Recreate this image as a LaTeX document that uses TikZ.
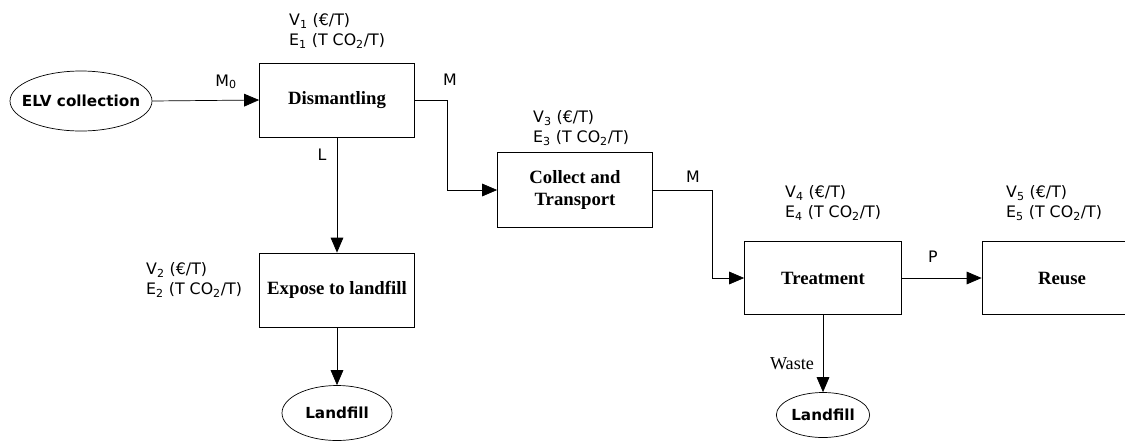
\documentclass[tikz,border=0pt]{standalone}
\usepackage{fontspec}
\setmainfont{Liberation Serif}
\setsansfont{DejaVu Sans}
\usetikzlibrary{arrows.meta,shapes.geometric,positioning}

\begin{document}
\begin{tikzpicture}[x=0.03cm,y=-0.03cm]
\tikzset{
  stagebox/.style={rectangle,draw,line width=0.6pt,minimum width=4.65cm,minimum height=2.22cm,
    align=center,font=\bfseries\fontsize{16}{18}\selectfont},
  endpoint/.style={ellipse,draw,line width=0.6pt,inner sep=0pt,font=\sffamily\bfseries\fontsize{13}{15}\selectfont},
  costlabel/.style={anchor=west,align=left,inner sep=0pt,font=\sffamily\fontsize{13.5}{17}\selectfont},
  flowlabel/.style={inner sep=0pt,font=\sffamily\fontsize{13.5}{15}\selectfont},
  flow/.style={-{Triangle[length=4.5mm,width=3.8mm]},line width=0.6pt},
  plain/.style={line width=0.6pt}
}
\clip (0,0) rectangle (1125,443);
% nodes
\node[endpoint,inner xsep=-0.27cm,minimum width=4.26cm,minimum height=1.8cm] (n_elv) at (81,101) {ELV collection};
\node[stagebox] (n_dism) at (337,100) {Dismantling};
\node[stagebox] (n_expose) at (337,290) {Expose to landfill};
\node[stagebox,minimum height=2.25cm] (n_coll) at (575,190) {Collect and\\Transport};
\node[stagebox,minimum width=4.71cm,minimum height=2.19cm] (n_treat) at (823,278) {Treatment};
\node[stagebox,minimum width=4.8cm,minimum height=2.19cm] (n_reuse) at (1062,278) {Reuse};
\node[endpoint,minimum width=3.3cm,minimum height=1.65cm] (n_lf1) at (337,413) {Landfill};
\node[endpoint,minimum width=2.8cm,minimum height=1.35cm] (n_lf2) at (823,415) {Landfill};
% cost labels
\node[costlabel] (c_dism) at (289,31) {V\textsubscript{1} (€/T)\\E\textsubscript{1} (T CO\textsubscript{2}/T)};
\node[costlabel] (c_expose) at (146,280) {V\textsubscript{2} (€/T)\\E\textsubscript{2} (T CO\textsubscript{2}/T)};
\node[costlabel] (c_coll) at (533,128) {V\textsubscript{3} (€/T)\\E\textsubscript{3} (T CO\textsubscript{2}/T)};
\node[costlabel] (c_treat) at (785,203) {V\textsubscript{4} (€/T)\\E\textsubscript{4} (T CO\textsubscript{2}/T)};
\node[costlabel] (c_reuse) at (1006,203) {V\textsubscript{5} (€/T)\\E\textsubscript{5} (T CO\textsubscript{2}/T)};
% flow labels
\node[flowlabel] (f_m0) at (226,82) {M\textsubscript{0}};
\node[flowlabel] (f_m1) at (450,80) {M};
\node[flowlabel] (f_l) at (322,155) {L};
\node[flowlabel] (f_m2) at (693,177) {M};
\node[flowlabel] (f_p) at (933,257) {P};
\node[inner sep=0pt,font=\fontsize{15.5}{17}\selectfont] (f_waste) at (792,364) {Waste};
% connectors
\draw[flow] (n_elv.east) -- (n_dism.west);
\draw[flow] (n_dism.east) -- ++(32,0) |- (n_coll.west);
\draw[flow] (n_coll.east) -- ++(59,0) |- (n_treat.west);
\draw[flow] (n_treat.east) -- (n_reuse.west);
\draw[flow] (n_dism.south) -- (n_expose.north);
\draw[flow] (n_expose.south) -- (n_lf1.north);
\draw[flow] (n_treat.south) -- (n_lf2.north);
\end{tikzpicture}
\end{document}
